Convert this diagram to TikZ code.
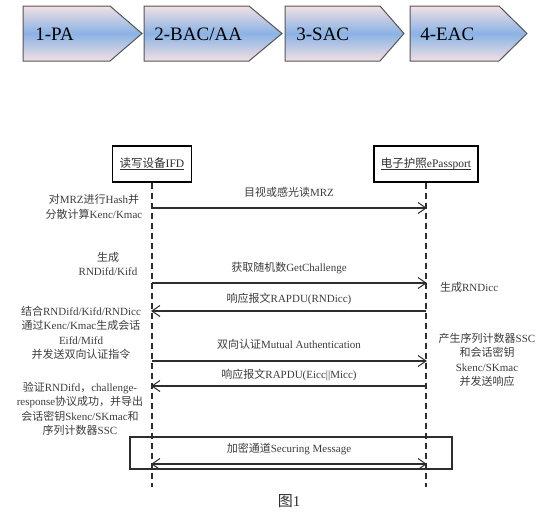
\documentclass[tikz,border=0pt]{standalone}
\usepackage{fontspec}
\setmainfont{Liberation Serif}
\newfontfamily\zhfont{Noto Sans CJK SC}
% switch to the CJK font for Chinese characters
\XeTeXinterchartokenstate=1
\newXeTeXintercharclass\zhclass
\makeatletter
\count@="4E00
\loop\XeTeXcharclass\count@=\zhclass\advance\count@ by 1 \ifnum\count@<"9FA6 \repeat
\makeatother
\XeTeXcharclass"FF0C=\zhclass
\XeTeXinterchartoks 0 \zhclass {\zhfont}
\XeTeXinterchartoks 4095 \zhclass {\zhfont}
\XeTeXinterchartoks \zhclass 0 {\rmfamily}
\XeTeXinterchartoks \zhclass 4095 {\rmfamily}

\definecolor{phasepink}{RGB}{242,224,228}
\definecolor{phaseblue}{RGB}{138,178,228}
\definecolor{inkgray}{RGB}{45,45,45}
\definecolor{notegray}{RGB}{60,60,60}

% underlined participant name
\newcommand{\ulname}[1]{\setbox0\hbox{#1}\rlap{\rule[-2.2pt]{\wd0}{0.7pt}}\box0}

\begin{document}
\tikzset{every picture/.style={line width=0.75pt}}
\tikzset{
  phase/.style={draw={rgb, 255:red, 85; green, 85; blue, 85 }, line width=1pt, top color=phasepink, bottom color=phasepink, middle color=phaseblue},
  phaselabel/.style={anchor=west, inner sep=0pt, text=black, font=\fontsize{19}{22}\selectfont},
  actor/.style={draw=black, line width=1.3pt, minimum height=36pt, inner sep=1pt, text=inkgray, font=\fontsize{11.5}{14}\selectfont},
  lifeline/.style={draw=inkgray, line width=1.2pt, dash pattern={on 6pt off 4pt}},
  msg/.style={draw=inkgray, line width=1.1pt},
  barb/.style={draw=inkgray, line width=1pt},
  note/.style={inner sep=0.75pt, align=center, text=notegray, font=\fontsize{11}{14.5}\selectfont}
}

\begin{tikzpicture}[x=1pt,y=1pt,yscale=-1,xscale=1]
\useasboundingbox (0,0) rectangle (550,515);

%Phase arrows
\shadedraw [phase] (23,6) -- (110,6) -- (142,33.5) -- (110,61) -- (23,61) -- cycle ;
\shadedraw [phase] (144,6) -- (249,6) -- (282,33.5) -- (249,61) -- (144,61) -- cycle ;
\shadedraw [phase] (285,6) -- (380,6) -- (404,33.5) -- (380,61) -- (285,61) -- cycle ;
\shadedraw [phase] (410,6) -- (499,6) -- (527,33.5) -- (499,61) -- (410,61) -- cycle ;
% Text Node
\node (pa) [phaselabel] at (35,34) {1-PA};
% Text Node
\node (bac) [phaselabel] at (154,34) {2-BAC/AA};
% Text Node
\node (sac) [phaselabel] at (296,34) {3-SAC};
% Text Node
\node (eac) [phaselabel] at (420,34) {4-EAC};

%Participants
\node (ifd) [actor, minimum width=79pt] at (152,164) {\ulname{读写设备IFD}};
\node (epp) [actor, minimum width=104pt] at (426,164) {\ulname{电子护照ePassport}};
\coordinate (ifdend) at (152,487);
\coordinate (eppend) at (426,487);
%Lifelines
\draw [lifeline] (ifd.south) -- (ifdend);
\draw [lifeline] (epp.south) -- (eppend);

%Message points
\coordinate (i1) at (152,208);  \coordinate (e1) at (426,208);
\coordinate (i2) at (152,283);  \coordinate (e2) at (426,283);
\coordinate (i3) at (152,311);  \coordinate (e3) at (426,311);
\coordinate (i4) at (152,361);  \coordinate (e4) at (426,361);
\coordinate (i5) at (152,386);  \coordinate (e5) at (426,386);
\coordinate (i6) at (152,464);  \coordinate (e6) at (426,464);

%Straight Lines
\draw [msg] (i1) -- (e1) ;
\draw [barb, shift={(e1)}, rotate=180] (8,-5.5) -- (0,0) -- (8,5.5) ;
%Straight Lines
\draw [msg] (i2) -- (e2) ;
\draw [barb, shift={(e2)}, rotate=180] (8,-5.5) -- (0,0) -- (8,5.5) ;
%Straight Lines
\draw [msg] (e3) -- (i3) ;
\draw [barb, shift={(i3)}] (8,-5.5) -- (0,0) -- (8,5.5) ;
%Straight Lines
\draw [msg] (i4) -- (e4) ;
\draw [barb, shift={(e4)}, rotate=180] (8,-5.5) -- (0,0) -- (8,5.5) ;
%Straight Lines
\draw [msg] (e5) -- (i5) ;
\draw [barb, shift={(i5)}] (8,-5.5) -- (0,0) -- (8,5.5) ;

%Secure channel
\node (sec) [draw=inkgray, line width=1.1pt, minimum width=322pt, minimum height=32pt, inner sep=0pt] at (291,453) {};
\draw [msg, line width=1.5pt] (i6) -- (e6) ;
\draw [barb, shift={(i6)}] (8,-5.5) -- (0,0) -- (8,5.5) ;
\draw [barb, shift={(e6)}, rotate=180] (8,-5.5) -- (0,0) -- (8,5.5) ;

% Text Node
\node (l1) [note] at (289,192) {目视或感光读MRZ};
% Text Node
\node (l2) [note] at (289,268) {获取随机数GetChallenge};
% Text Node
\node (l3) [note] at (289,299) {响应报文RAPDU(RNDicc)};
% Text Node
\node (l4) [note] at (289,344) {双向认证Mutual Authentication};
% Text Node
\node (l5) [note] at (289,375) {响应报文RAPDU(Eicc||Micc)};
% Text Node
\node (l6) [note] at (289,449) {加密通道Securing Message};

% Text Node
\node (hash) [note] at (94,207) {对MRZ进行Hash并\\分散计算Kenc/Kmac};
% Text Node
\node (gen) [note] at (108,264) {生成\\RNDifd/Kifd};
% Text Node
\node (comb) [note] at (81,333) {结合RNDifd/Kifd/RNDicc\\通过Kenc/Kmac生成会话\\Eifd/Mifd\\并发送双向认证指令};
% Text Node
\node (check) [note] at (80,409) {验证RNDifd，challenge-\\response协议成功，并导出\\会话密钥Skenc/SKmac和\\序列计数器SSC};
% Text Node
\node (rnd) [note, anchor=west] at (439,287) {生成RNDicc};
% Text Node
\node (ssc) [note] at (487,360) {产生序列计数器SSC\\和会话密钥\\Skenc/SKmac\\并发送响应};

% Text Node
\node (cap) [inner sep=0.75pt, text=inkgray, font=\fontsize{15}{18}\selectfont] at (289,501) {图1};

\end{tikzpicture}
\end{document}
